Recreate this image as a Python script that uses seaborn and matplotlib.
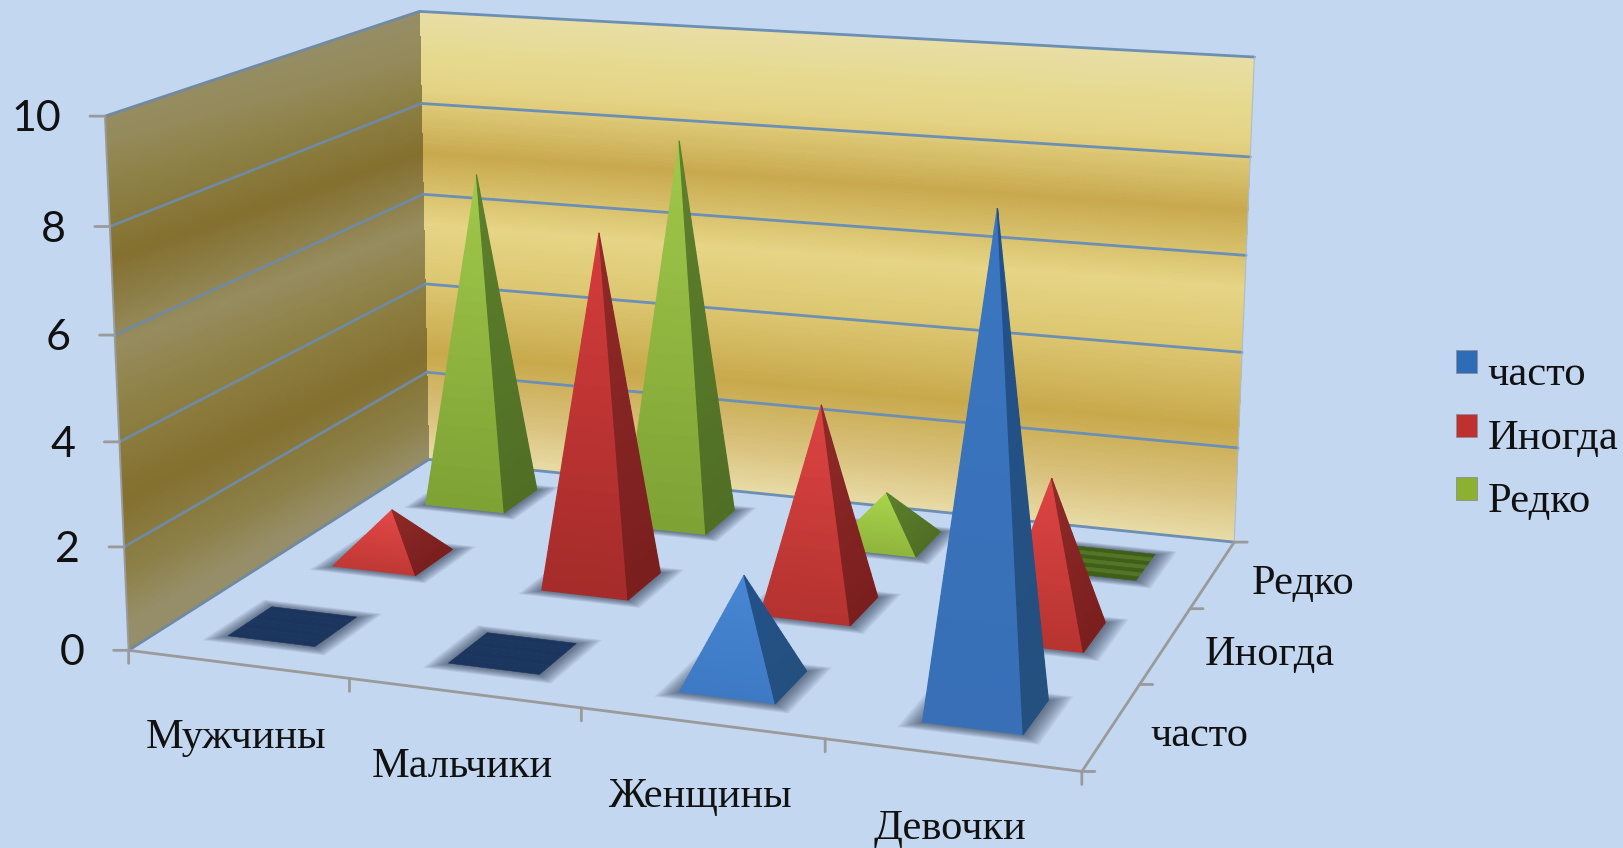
import numpy as np
import seaborn as sns
import matplotlib
matplotlib.use("Agg")
import matplotlib.pyplot as plt
from matplotlib.colors import LinearSegmentedColormap
from matplotlib.patches import Patch, Rectangle
from matplotlib.legend_handler import HandlerPatch
from mpl_toolkits.mplot3d import proj3d
from mpl_toolkits.mplot3d.art3d import Poly3DCollection

groups = ["Мужчины", "Мальчики", "Женщины", "Девочки"]
series = ["часто", "Иногда", "Редко"]
often = [0, 0, 2, 9]
sometimes = [1, 7, 4, 3]
rarely = [7, 8, 1, 0]
z_ticks = [0, 2, 4, 6, 8, 10]

bg = "#c4d7f0"
axis_grey = "#9a9a9a"
grid_blue = "#6c8fb5"
grid_left = "#6f8aa2"

# bottom/top of the front face for tall and for small pyramids, then the side face
colors = {
    "часто": dict(tall=("#386fb6", "#3a76c0"), small=("#3f7cc8", "#4c8ad8"),
                  side=("#24507f", "#23508a"), flat=("#1b355e", "#1c375f"), key="#2f6cb8"),
    "Иногда": dict(tall=("#a52c2a", "#d43c3c"), small=("#c43a36", "#e44a48"),
                   side=("#7a1f1e", "#8f2a28"), flat=("#8a2020", "#8a2020"), key="#c0302e"),
    "Редко": dict(tall=("#7fa235", "#a0c84a"), small=("#93b83e", "#a9d64c"),
                  side=("#506f25", "#5e7f2c"), flat=("#3f5f18", "#527526"), key="#8cb030"),
}

sns.set_theme(style="white", rc={"figure.facecolor": bg, "savefig.facecolor": bg})
plt.rcParams["font.family"] = ["Liberation Serif", "DejaVu Sans"]

fig = plt.figure(figsize=(16.23, 8.48), dpi=100)
ax = fig.add_subplot(projection="3d", computed_zorder=False)
ax.set_xlim(0, len(groups), view_margin=0)
ax.set_ylim(0, len(series), view_margin=0)
ax.set_zlim(0, z_ticks[-1], view_margin=0)
ax.view_init(14.146, -70.487, -0.057)
ax.set_proj_type("persp", focal_length=0.4889)
ax.set_box_aspect((1.7983, 1.3456, 1))
ax.set_axis_off()
ax.patch.set_visible(False)
ax.set_position([67.1 / 1623, -138.6 / 848, 1251 / 1623, 1251 / 848])

# walls, the bands of colour run along z
nx, ny = len(groups), len(series)
back_cmap = LinearSegmentedColormap.from_list("back", [
    (0, "#e8dba6"), (0.1, "#d9c27e"), (0.24, "#c8a94c"), (0.4, "#dcc670"), (0.53, "#e6d586"),
    (0.69, "#c8a94e"), (0.83, "#e4d384"), (0.9, "#e6d98e"), (1, "#e8dea6")])
left_cmap = LinearSegmentedColormap.from_list("left", [
    (0, "#968e68"), (0.1, "#8c8048"), (0.24, "#84702f"), (0.4, "#8e8044"), (0.53, "#968c5e"),
    (0.69, "#84702f"), (0.83, "#8e8248"), (0.9, "#948a5a"), (1, "#968e68")])
z_grid = np.linspace(0, 10, 201)
xx, zz = np.meshgrid(np.linspace(0, nx, 5), z_grid)
ax.plot_surface(xx, np.full_like(xx, ny), zz, facecolors=back_cmap(zz / 10), rstride=1, cstride=1,
                shade=False, linewidth=0, antialiased=False, zorder=1)
yy, zz = np.meshgrid(np.linspace(0, ny, 31), z_grid)
ax.plot_surface(np.zeros_like(yy), yy, zz, facecolors=left_cmap(np.clip((zz - 0.5 * (1 - yy / ny)) / 10, 0, 1)),
                rstride=1, cstride=1, shade=False, linewidth=0, antialiased=False, zorder=1)

for z in z_ticks:
    ax.plot([0, 0], [0, ny], [z, z], color=grid_left, lw=2, zorder=2)
    ax.plot([0, nx], [ny, ny], [z, z], color=grid_blue, lw=2, zorder=2)
ax.plot([nx, nx], [ny, ny], [0, 10], color="#a9bdd0", lw=0.8, zorder=2)
ax.plot([0, 0], [0, 0], [0, 10], color=axis_grey, lw=1.4, zorder=2)
ax.plot([0, nx, nx], [0, 0, ny], [0, 0, 0], color=axis_grey, lw=2, zorder=2)

half = 0.2


def strips(a, b, c, d, n):
    # cut the quad a-b-c-d into n strips going from edge a-b to edge d-c
    a, b, c, d = map(np.array, (a, b, c, d))
    t = np.linspace(0, 1, n + 1)
    return [[a + (d - a) * t[i], b + (c - b) * t[i], b + (c - b) * t[i + 1], a + (d - a) * t[i + 1]]
            for i in range(n)]


def add_poly(verts, cols, zorder, lw=0.9):
    coll = Poly3DCollection(verts, facecolors=cols, edgecolors=cols, linewidths=lw, zorder=zorder)
    ax.add_collection3d(coll, autolim=False)


table = {"часто": often, "Иногда": sometimes, "Редко": rarely}
order = 10
for j in reversed(range(ny)):
    name = series[j]
    style = colors[name]
    for i in range(nx):
        v = table[name][i]
        cx, cy = i + 0.5, j + 0.5
        # soft shadow on the floor
        for grow in np.linspace(0.08, 0.01, 10):
            g = half + grow
            corners = [(cx - g, cy - g, 0), (cx + g, cy - g, 0), (cx + g, cy + g, 0), (cx - g, cy + g, 0)]
            add_poly([corners], [(0.1, 0.15, 0.25, 0.07)], 3, lw=0)
        a = (cx - half, cy - half, 0)
        b = (cx + half, cy - half, 0)
        c = (cx + half, cy + half, 0)
        d = (cx - half, cy + half, 0)
        if v == 0:
            add_poly(strips(a, b, c, d, 7), [style["flat"][s % 2] for s in range(7)], order, lw=0.4)
        else:
            apex = (cx, cy, v)
            n = 24
            mix = min(v / 7, 1)
            bottom = sns.blend_palette([style["small"][0], style["tall"][0]], 11)[int(mix * 10)]
            top = sns.blend_palette([style["small"][1], style["tall"][1]], 11)[int(mix * 10)]
            add_poly(strips(a, b, apex, apex, n), sns.blend_palette([bottom, top], n), order)
            add_poly(strips(b, c, apex, apex, n), sns.blend_palette(list(style["side"]), n), order)
        order += 1


def project(x, y, z):
    px, py, _ = proj3d.proj_transform(x, y, z, ax.get_proj())
    return float(px), float(py)


def tick(x, y, z, dx, dy):
    ax.annotate("", xy=project(x, y, z), xycoords="data", xytext=(dx, dy), textcoords="offset pixels",
                arrowprops=dict(arrowstyle="-", color=axis_grey, lw=2, shrinkA=0, shrinkB=0), zorder=20)


for z in z_ticks:
    tick(0, 0, z, -15, 0)
    ax.annotate(str(z), xy=project(0, 0, z), xytext=(-44, -3), textcoords="offset pixels", ha="right", va="center",
                fontsize=31, family="Lato", color="#111111", zorder=20)
for i in range(nx + 1):
    tick(i, 0, 0, 0, -13)
for j in range(ny + 1):
    tick(nx, j, 0, 13, 0)
for i, name in enumerate(groups):
    ax.annotate(name, xy=project(i + 0.5, 0, 0), xytext=(-2, -74), textcoords="offset pixels", ha="center", va="center",
                fontsize=30.5, color="#111111", zorder=20)
for j, name in enumerate(series):
    ax.annotate(name, xy=project(nx, j + 0.5, 0), xytext=(39, -9), textcoords="offset pixels", ha="left", va="center",
                fontsize=30.5, color="#111111", zorder=20)


def raised_key(legend, orig_handle, xdescent, ydescent, width, height, fontsize):
    return Rectangle((-xdescent, -ydescent + 6), width, height)


handles = [Patch(facecolor=colors[s]["key"], edgecolor="#8a8f96", linewidth=0.6, label=s) for s in series]
fig.legend(handles=handles, loc="center left", bbox_to_anchor=(1456 / 1623, 0.483), frameon=False, fontsize=30.7,
           borderpad=0, borderaxespad=0, handlelength=0.49, handleheight=0.46, handletextpad=0.25, labelspacing=0.59,
           handler_map={Patch: HandlerPatch(patch_func=raised_key)}, labelcolor="#111111")

fig.savefig("out.png", dpi=100)
